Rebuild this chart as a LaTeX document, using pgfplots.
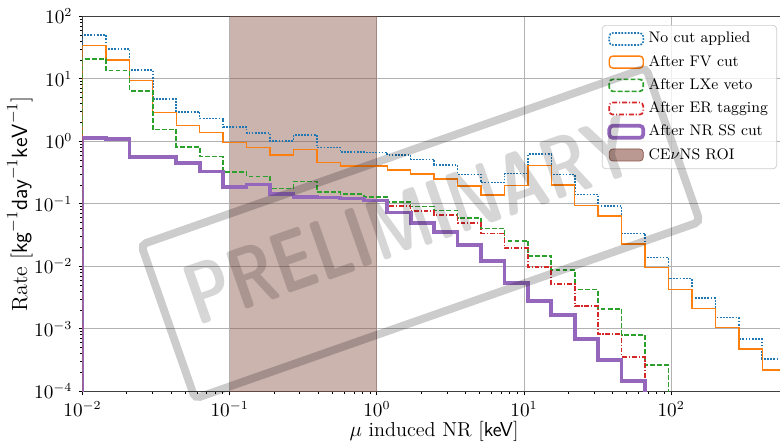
\documentclass[border=0pt]{standalone}
\usepackage{fontspec}
\usepackage{graphicx}
\usepackage{pgfplots}
\pgfplotsset{compat=1.18}
\definecolor{tblue}{HTML}{1F77B4}
\definecolor{torange}{HTML}{FF7F0E}
\definecolor{tgreen}{HTML}{2CA02C}
\definecolor{tred}{HTML}{D62728}
\definecolor{tpurple}{HTML}{9467BD}
\definecolor{tbrown}{HTML}{8C564B}

% left bin edges (log bins 0.01..600, 30 bins); 1e-9 = empty bin
\pgfplotstableread{
x        nocut    fv       lxe      er       nrss
0.01     1e-9     1e-9     1e-9     1e-9     1e-9
0.01     50.5     33.9     20.5     1.13     1.13
0.014427 30.1     20.1     13.5     1.08     1.08
0.020817 13.8     9.3      6.46     0.567    0.567
0.030034 4.75     2.89     1.55     0.555    0.555
0.043357 2.96     1.78     0.815    0.445    0.445
0.062569 2.31     1.37     0.57     0.327    0.327
0.090272 1.70     0.955    0.325    0.188    0.188
0.13029  1.36     0.80     0.272    0.203    0.203
0.18800  1.015    0.60     0.175    0.142    0.142
0.27131  1.26     0.74     0.228    0.13     0.13
0.39152  0.80     0.455    0.154    0.126    0.126
0.56494  0.67     0.405    0.142    0.121    0.121
0.81529  0.66     0.40     0.130    0.113    0.113
1.1763   0.60     0.346    0.108    0.092    0.073
1.6974   0.515    0.302    0.091    0.0767   0.049
2.4495   0.418    0.248    0.0786   0.066    0.0355
3.5345   0.295    0.194    0.060    0.0488   0.0219
5.1006   0.218    0.138    0.0405   0.0335   0.0122
7.3600   0.305    0.198    0.0257   0.0194   0.00535
10.620   0.62     0.407    0.0148   0.00964  0.00282
15.323   0.296    0.20     0.00872  0.00521  0.00166
22.118   0.140    0.093    0.00428  0.00232  0.000687
31.914   0.093    0.0638   0.00205  0.00082  0.000317
46.052   0.0337   0.0228   0.000796 0.000358 0.000148
66.450   0.01374  0.0095   0.000263 1e-9     1e-9
95.900   0.00634  0.00428  1e-9     1e-9     1e-9
138.39   0.00308  0.00213  1e-9     1e-9     1e-9
199.69   0.00151  0.00104  1e-9     1e-9     1e-9
288.16   0.00068  0.000475 1e-9     1e-9     1e-9
415.82   0.00033  0.000219 1e-9     1e-9     1e-9
600      0.00033  0.000219 1e-9     1e-9     1e-9
}\rates

\tikzset{
  sNo/.style={tblue, line width=0.9pt, dash pattern=on 1pt off 0.8pt},
  sFV/.style={torange, line width=0.8pt},
  sLXe/.style={tgreen, line width=0.95pt, dash pattern=on 2.8pt off 1.2pt},
  sER/.style={tred, line width=0.95pt, dash pattern=on 2.8pt off 1.1pt on 0.6pt off 1.1pt},
  sNR/.style={tpurple, line width=2.1pt},
}
\pgfplotsset{
  boxleg/.style={/pgfplots/legend image code/.code={\draw[##1] (0cm,-0.12cm) rectangle (0.68cm,0.12cm);}},
}

\begin{document}
\begin{tikzpicture}
\useasboundingbox (-1.65,-1.054) rectangle (13.95,7.826);
\begin{axis}[
  at={(0,0)}, anchor=south west, scale only axis,
  width=14.064cm, height=7.5cm,
  xmode=log, ymode=log,
  xmin=0.01, xmax=600, ymin=1e-4, ymax=100,
  xtick={0.01,0.1,1,10,100},
  ytick={1e-4,1e-3,0.01,0.1,1,10,100},
  xtick pos=left, ytick pos=left, tick align=outside,
  major tick length=0.08cm, minor tick length=0.05cm,
  tick style={black, line width=0.5pt},
  axis line style={black!75, line width=0.7pt},
  grid=major, major grid style={gray!60, line width=0.5pt},
  tick label style={font=\fontsize{10.5}{12}\selectfont},
  xlabel={$\mu$ induced NR [\textsf{keV}]},
  ylabel={Rate [$\mathsf{kg}^{-1}\mathsf{day}^{-1}\mathsf{keV}^{-1}$]},
  xlabel style={font=\fontsize{11.5}{13}\selectfont, at={(axis description cs:0.5,-0.108)}, anchor=center},
  ylabel style={font=\fontsize{12.5}{14}\selectfont, at={(axis description cs:-0.0889,0.5)}, anchor=center},
  legend style={at={(1,1)}, anchor=north east, xshift=-0.174cm, yshift=-0.174cm,
    draw=black!20, rounded corners=2pt, fill=white, fill opacity=0.8, text opacity=1,
    font=\fontsize{8.7}{10}\selectfont, inner xsep=3pt, inner ysep=2pt, row sep=1.5pt},
  legend cell align=left,
]
\addplot[draw=none, fill=tbrown, fill opacity=0.45, forget plot]
  coordinates {(0.1,1e-5) (1,1e-5) (1,1e3) (0.1,1e3)} -- cycle;

\addplot[sNo, const plot, forget plot] table[x=x, y=nocut] {\rates};
\addplot[sFV, const plot, forget plot] table[x=x, y=fv] {\rates};
\addplot[sLXe, const plot, forget plot] table[x=x, y=lxe] {\rates};
\addplot[sER, const plot, forget plot] table[x=x, y=er] {\rates};
\addplot[sNR, const plot, forget plot] table[x=x, y=nrss] {\rates};

\addlegendimage{boxleg, sNo}
\addlegendentry{No cut applied}
\addlegendimage{boxleg, sFV}
\addlegendentry{After FV cut}
\addlegendimage{boxleg, sLXe}
\addlegendentry{After LXe veto}
\addlegendimage{boxleg, sER}
\addlegendentry{After ER tagging}
\addlegendimage{boxleg, sNR}
\addlegendentry{After NR SS cut}
\addlegendimage{/pgfplots/legend image code/.code={\fill[tbrown, fill opacity=0.6] (0cm,-0.12cm) rectangle (0.68cm,0.12cm);}}
\addlegendentry{CE$\nu$NS ROI}
\end{axis}
% PRELIMINARY stamp
\node[rotate=19.3, draw=black, draw opacity=0.2, line width=4.5pt, rounded corners=3pt,
  minimum width=10.7cm, minimum height=3.26cm] at (6.76,3.161) {};
\node[rotate=19.3, text opacity=0.16, inner sep=0pt] at (6.54,3.424)
  {\resizebox{9.4cm}{1.2cm}{\sffamily\bfseries PRELIMINARY}};
\end{tikzpicture}
\end{document}
